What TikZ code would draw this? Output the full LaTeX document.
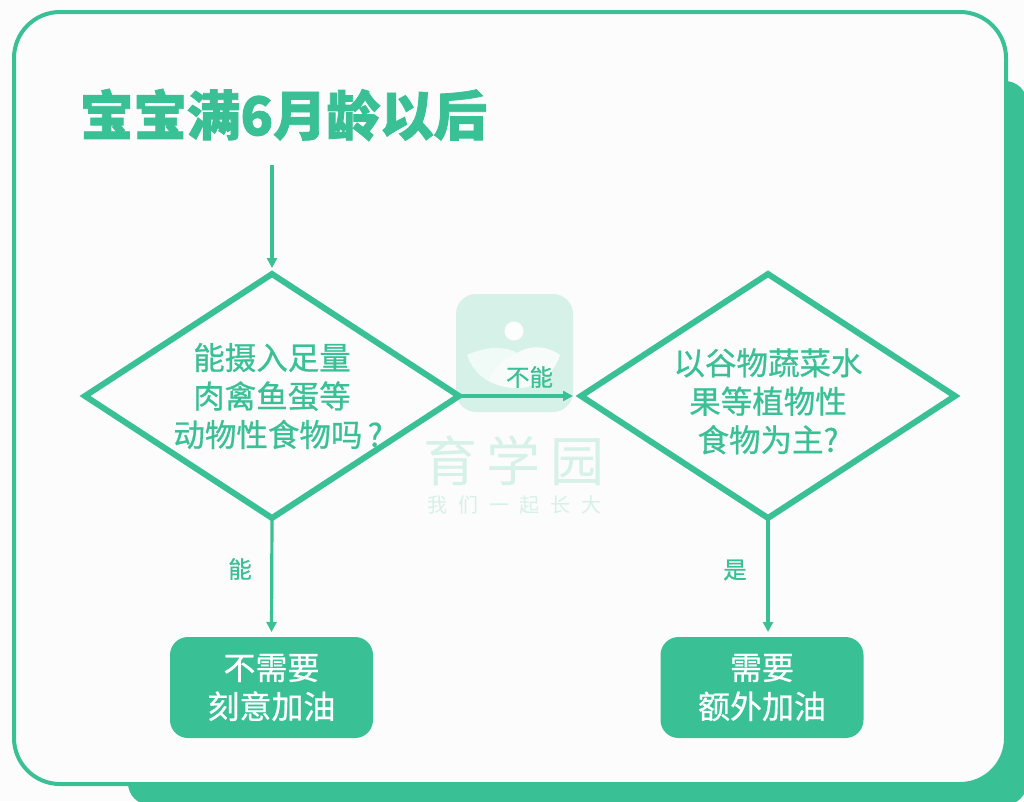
\documentclass[tikz,border=0pt]{standalone}
\usepackage{xcolor}
\definecolor{leaf}{RGB}{58,192,149}
\definecolor{leafpale}{RGB}{214,241,231}
\usepackage{fontspec}
\setmainfont{Noto Sans CJK SC}
\newfontfamily\medfont[FakeBold=0.7]{Noto Sans CJK SC}
\newfontfamily\headfont[BoldFeatures={FakeBold=1.5}]{Noto Sans CJK SC}
\newfontfamily\markbig[LetterSpace=18]{Noto Sans CJK SC}
\newfontfamily\marksmall[LetterSpace=54]{Noto Sans CJK SC}
\usetikzlibrary{shapes.geometric}
\usetikzlibrary{positioning}
\usetikzlibrary{arrows.meta}
\begin{document}
\begin{tikzpicture}[x=1pt,y=-1pt,
every node/.style={inner sep=0pt,outer sep=0pt,align=center},
ask/.style={diamond,draw=leaf,line width=6pt,aspect=1.5,minimum width=374pt,minimum height=244pt,text=leaf,font=\medfont\fontsize{31.5}{38.5}\selectfont},
answer/.style={fill=leaf,rounded corners=18pt,minimum width=203pt,minimum height=101pt,text=white,font=\medfont\fontsize{32}{39}\selectfont},
tag/.style={text=leaf,font=\medfont\fontsize{23.5}{25}\selectfont},
link/.style={draw=leaf,line width=3.2pt,-{Triangle[length=10pt,width=10pt]}}]
\useasboundingbox (0,0) rectangle (1024,801);
\fill[white!99!black] (0,0) rectangle (1024,801);
% card
\fill[leaf,rounded corners=22pt] (128,81) rectangle (1027,805);
\draw[leaf,line width=4pt,fill=white!99!black,rounded corners=46pt] (14,12) rectangle (1006,784);
% watermark
\fill[leafpale,rounded corners=20pt] (456,294) rectangle (573,412);
\fill[white!90!leafpale] (514,331) circle (9.5);
\fill[white,opacity=.65] (467,355) .. controls (490,344) and (510,348) .. (517,353) .. controls (530,345) and (545,345) .. (560,355) .. controls (552,378) and (535,388) .. (517,388) .. controls (495,388) and (475,378) .. (467,355) -- cycle;
\fill[white,opacity=.5] (517,353) .. controls (503,358) and (492,370) .. (489,380) .. controls (498,386) and (508,388) .. (517,388) .. controls (535,388) and (552,378) .. (560,355) .. controls (545,345) and (530,345) .. (517,353) -- cycle;
\node[text=leafpale,font=\markbig\fontsize{54}{56}\selectfont] (brand) at (514,461) {育学园};
\node[text=leafpale,font=\marksmall\fontsize{20}{22}\selectfont] (motto) at (514.5,505) {我们一起长大};
% title
\node[text=leaf,font=\headfont\bfseries\fontsize{53.5}{56}\selectfont,anchor=west] (title) at (80,115) {宝宝满6月龄以后};
\coordinate (start) at (272,165);
% flow
\node[ask] (meat) at (272,396) {能摄入足量\\肉禽鱼蛋等\\\makebox[0pt]{\hspace*{12pt}动物性食物吗\,?}};
\node[ask] (plant) at (768,396) {\rule{0pt}{37pt}以谷物蔬菜水\\果等植物性\\食物为主?};
\node[answer] (noneed) at (271.5,687.5) {不需要\\刻意加油};
\node[answer] (need) at (762,687.5) {需要\\额外加油};
\draw[link] (start) -- ([yshift=6pt]meat.north);
\draw[link] (meat.east) -- ([xshift=-8pt]plant.west);
\draw[link] (meat.south) -- ([yshift=5pt]noneed.north);
\draw[link] (plant.south) -- ([yshift=5pt]plant.south |- need.north);
\node[tag] (can) at (240,569) {能};
\node[tag] (cannot) at (529.5,377) {不能};
\node[tag] (yes) at (735,570) {是};
\end{tikzpicture}
\end{document}
